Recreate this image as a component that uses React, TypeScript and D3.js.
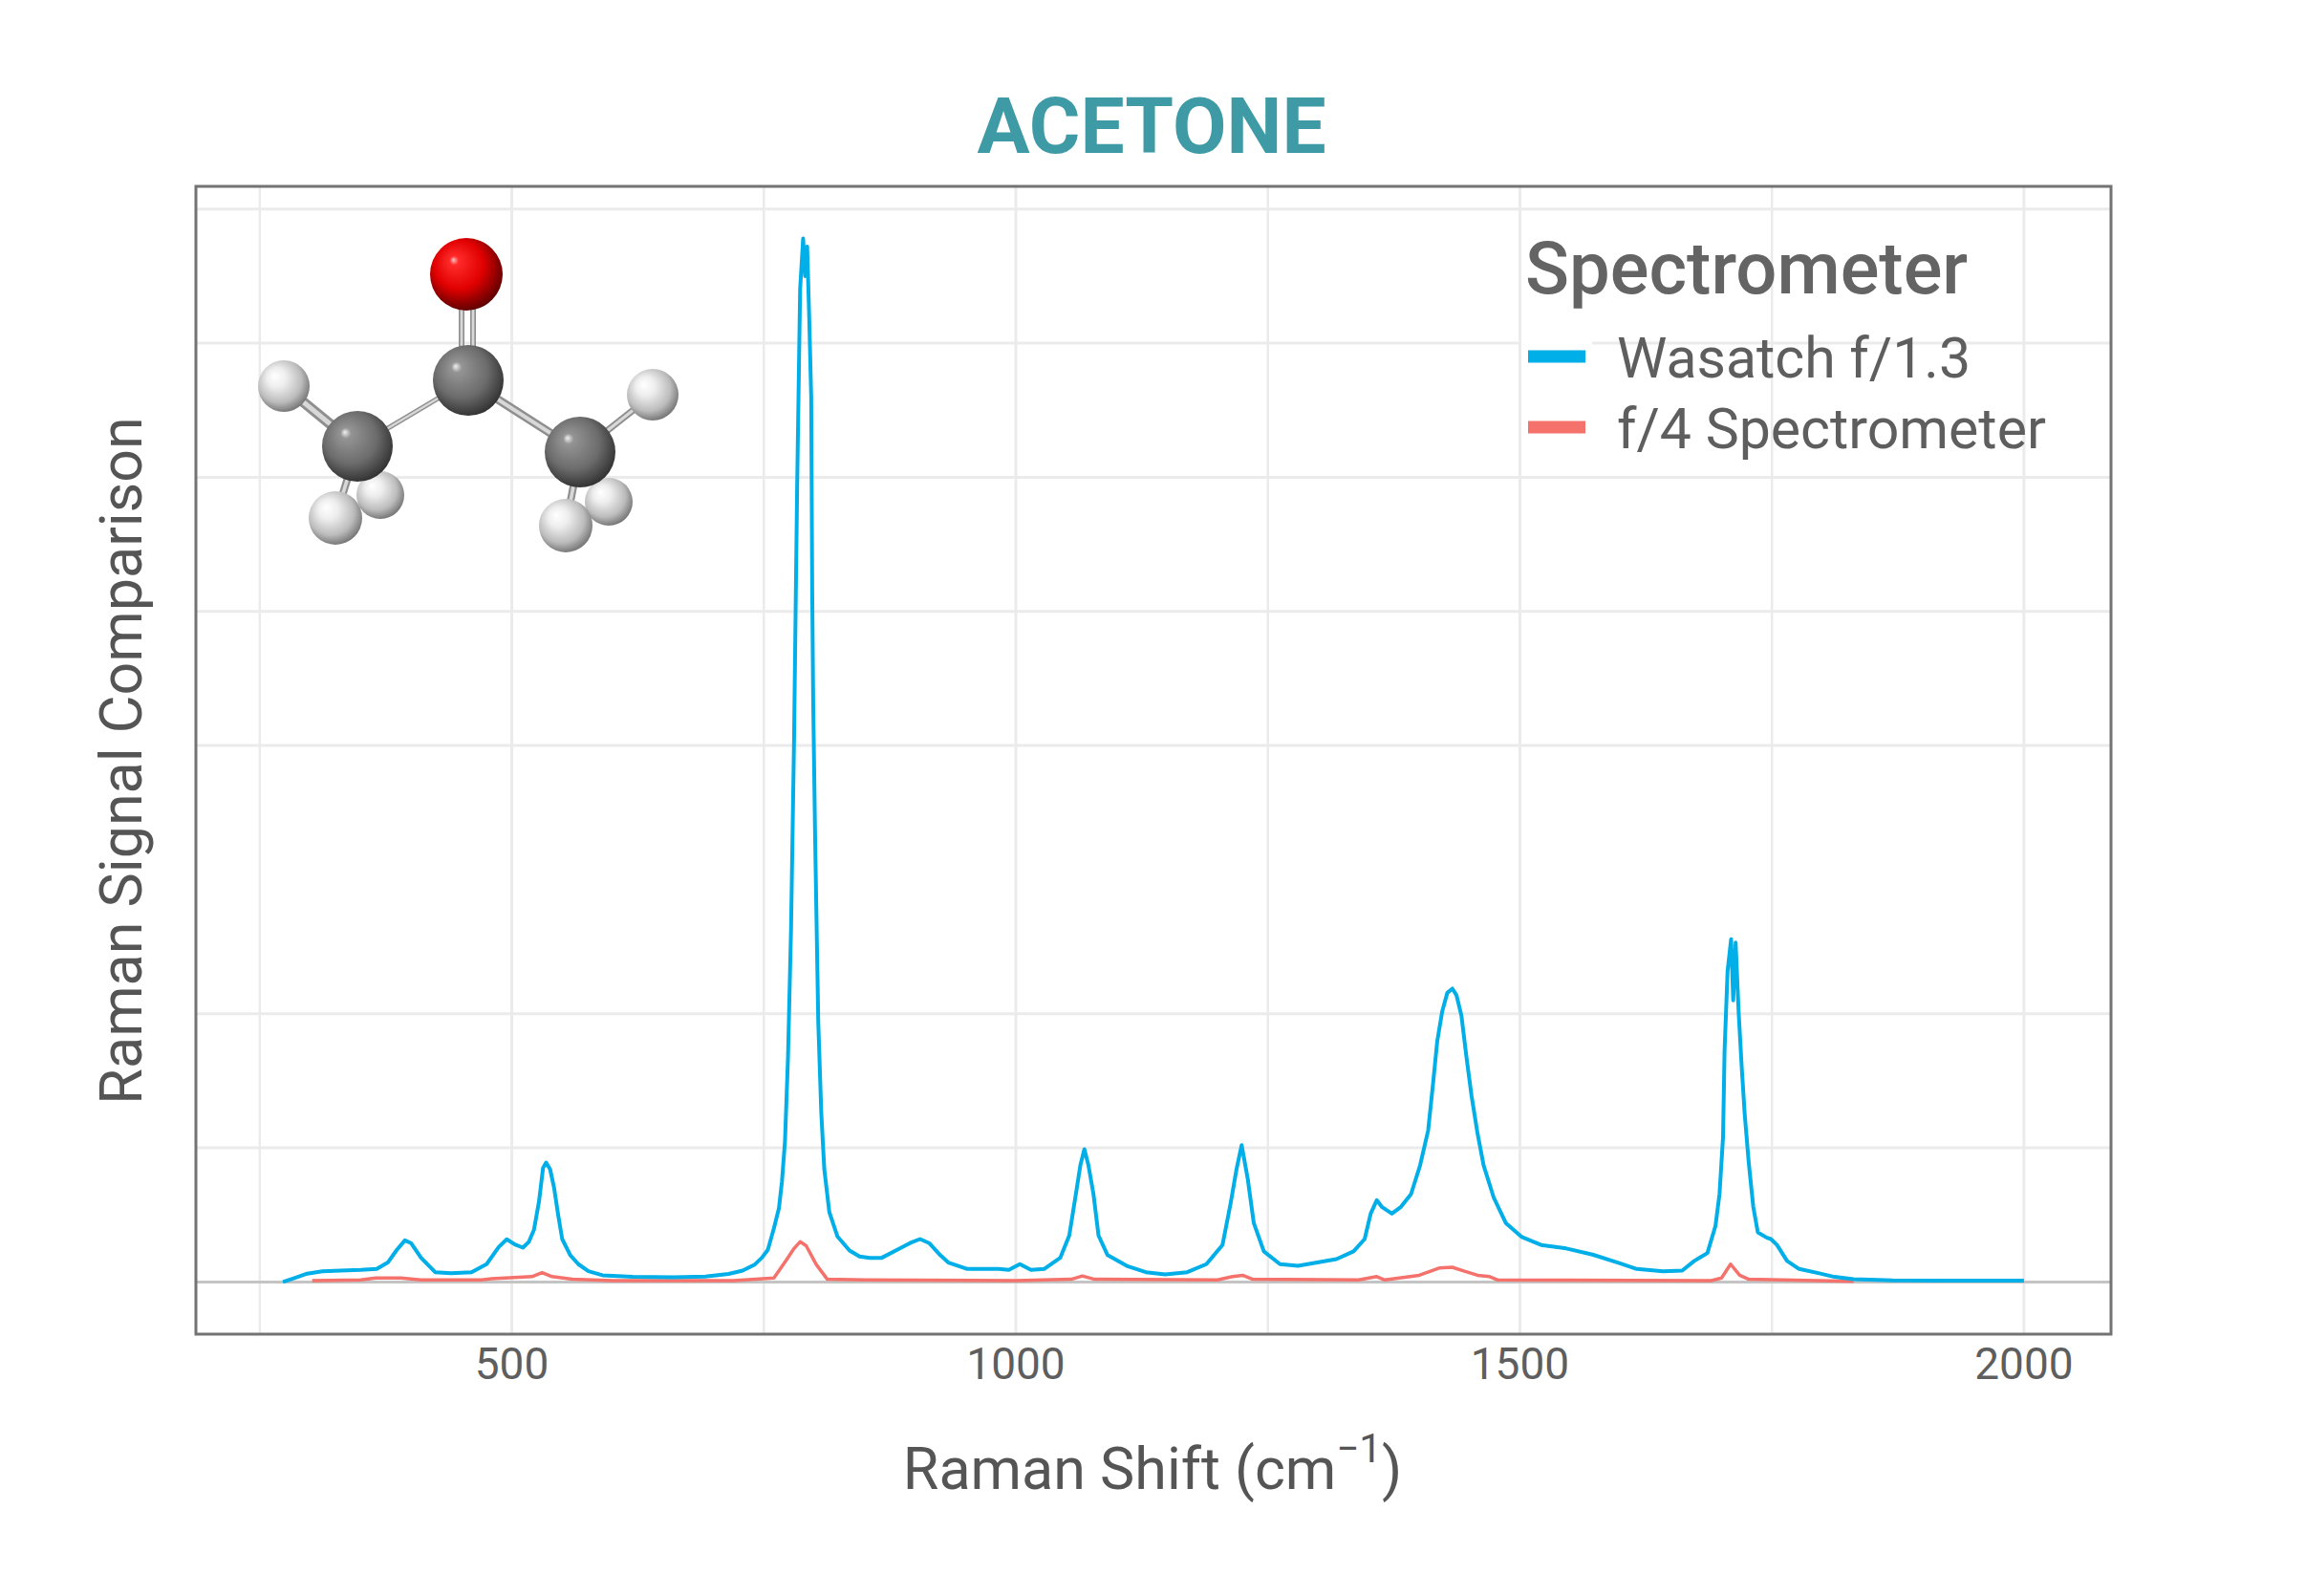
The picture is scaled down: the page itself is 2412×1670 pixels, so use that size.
import { useEffect, useRef } from "react";
import * as d3 from "d3";

// Raman shift (cm^-1), signal in gridline units
const wasatch: [number, number][] = [
    [273, 0.0], [285, 0.03], [297, 0.062], [312, 0.08], [330, 0.085], [350, 0.09],
    [366, 0.097], [377, 0.145], [386, 0.24], [394, 0.31], [400, 0.29], [410, 0.18],
    [424, 0.073], [440, 0.065], [460, 0.073], [475, 0.133], [487, 0.26], [495, 0.318],
    [503, 0.28], [511, 0.256], [517, 0.3], [522, 0.39], [527, 0.6], [531, 0.85],
    [534, 0.89], [538, 0.84], [542, 0.7], [546, 0.5], [550, 0.32], [558, 0.2],
    [566, 0.133], [576, 0.08], [590, 0.05], [620, 0.038], [660, 0.035], [692, 0.04],
    [715, 0.06], [729, 0.085], [741, 0.13], [748, 0.18], [754, 0.24], [760, 0.4],
    [765, 0.55], [768, 0.75], [771, 1.05], [774, 1.68], [777, 2.63], [780, 4.05],
    [783, 5.9], [786, 7.4], [789, 7.78], [791, 7.5], [793, 7.72], [795, 7.2],
    [797, 6.6], [798, 5.15], [799, 4.31], [801, 3.26], [804, 1.94], [807, 1.26],
    [810, 0.84], [815, 0.52], [823, 0.34], [835, 0.235], [845, 0.19], [855, 0.18],
    [867, 0.18], [885, 0.25], [895, 0.29], [905, 0.32], [914, 0.29], [925, 0.2],
    [933, 0.145], [952, 0.097], [983, 0.097], [993, 0.09], [1004, 0.133], [1015, 0.09],
    [1028, 0.097], [1044, 0.18], [1053, 0.347], [1059, 0.63], [1064, 0.87], [1068, 0.99],
    [1072, 0.87], [1077, 0.655], [1082, 0.347], [1091, 0.2], [1110, 0.12], [1129, 0.073],
    [1148, 0.057], [1170, 0.073], [1189, 0.133], [1205, 0.276], [1213, 0.584], [1219, 0.845],
    [1224, 1.02], [1230, 0.77], [1236, 0.44], [1246, 0.228], [1262, 0.133], [1280, 0.12],
    [1299, 0.145], [1318, 0.17], [1335, 0.228], [1346, 0.32], [1352, 0.51], [1358, 0.61],
    [1363, 0.56], [1373, 0.51], [1382, 0.56], [1392, 0.655], [1401, 0.87], [1409, 1.13],
    [1414, 1.49], [1418, 1.795], [1423, 2.02], [1428, 2.156], [1433, 2.187], [1437, 2.14],
    [1442, 1.985], [1447, 1.676], [1452, 1.39], [1458, 1.106], [1464, 0.87], [1474, 0.63],
    [1486, 0.44], [1502, 0.335], [1521, 0.276], [1546, 0.25], [1572, 0.204], [1597, 0.145],
    [1616, 0.097], [1642, 0.08], [1661, 0.085], [1673, 0.157], [1686, 0.216], [1694, 0.418],
    [1698, 0.655], [1701.5, 1.08], [1703, 1.72], [1706, 2.317], [1709.5, 2.555], [1711.6, 2.1],
    [1714, 2.53], [1717, 2.01], [1720, 1.605], [1723, 1.25], [1727, 0.89], [1731.5, 0.56],
    [1736, 0.37], [1745, 0.33], [1749, 0.32], [1755, 0.276], [1765, 0.157], [1777, 0.097],
    [1796, 0.066], [1812, 0.038], [1831, 0.02], [1870, 0.012], [1950, 0.01], [2000, 0.01],
];

const f4: [number, number][] = [
    [302, 0.01], [350, 0.015], [365, 0.03], [390, 0.03], [410, 0.015], [470, 0.015],
    [480, 0.025], [520, 0.04], [530, 0.07], [540, 0.04], [560, 0.02], [600, 0.01],
    [720, 0.01], [760, 0.03], [772, 0.16], [780, 0.25], [786, 0.3], [792, 0.27],
    [802, 0.13], [813, 0.02], [850, 0.015], [1000, 0.01], [1055, 0.02], [1066, 0.045],
    [1078, 0.02], [1200, 0.015], [1215, 0.04], [1225, 0.05], [1235, 0.02], [1340, 0.015],
    [1358, 0.04], [1366, 0.015], [1400, 0.05], [1420, 0.104], [1433, 0.11], [1445, 0.08],
    [1458, 0.05], [1470, 0.04], [1478, 0.015], [1690, 0.01], [1700, 0.03], [1709, 0.133],
    [1718, 0.05], [1727, 0.02], [1760, 0.015], [1831, 0.005],
];

const shiftTicks = [500, 1000, 1500, 2000];
const shiftMinor = [250, 750, 1250, 1750];
const signalGrid = [1, 2, 4, 5, 6, 7, 8];

const seriesNames = ["Wasatch f/1.3", "f/4 Spectrometer"];
const seriesColors = ["#00aee8", "#f4726b"];

// ball-and-stick acetone picture (pixel positions)
const atoms = [
    { x: 398, y: 518, r: 25, kind: "H", layer: 0 },
    { x: 637, y: 525, r: 25, kind: "H", layer: 0 },
    { x: 297, y: 404, r: 27, kind: "H", layer: 1 },
    { x: 683, y: 413, r: 27, kind: "H", layer: 1 },
    { x: 488, y: 287, r: 38, kind: "O", layer: 1 },
    { x: 490, y: 398, r: 37, kind: "C", layer: 1 },
    { x: 374, y: 467, r: 37, kind: "C", layer: 1 },
    { x: 607, y: 473, r: 37, kind: "C", layer: 1 },
    { x: 351, y: 542, r: 28, kind: "H", layer: 2 },
    { x: 592, y: 550, r: 28, kind: "H", layer: 2 },
];

const bonds = [
    { a: [483, 300], b: [483, 395], w: 6 },
    { a: [495, 300], b: [495, 395], w: 6 },
    { a: [490, 398], b: [374, 467], w: 5 },
    { a: [490, 398], b: [607, 473], w: 9 },
    { a: [297, 404], b: [374, 467], w: 11 },
    { a: [683, 413], b: [607, 473], w: 7 },
    { a: [374, 467], b: [351, 542], w: 8 },
    { a: [607, 473], b: [592, 550], w: 8 },
];

export default function App() {
    const svgRef = useRef<SVGSVGElement | null>(null);

    useEffect(() => {
        if (!svgRef.current) return;
        const svg = d3.select(svgRef.current);
        svg.selectAll("*").remove();

        const left = 205, right = 2209, top = 195, bottom = 1396;

        const xExt = d3.extent(wasatch, (d) => d[0]) as [number, number];
        const xPad = (xExt[1] - xExt[0]) * 0.05;
        const x = d3.scaleLinear().domain([xExt[0] - xPad, xExt[1] + xPad]).range([left, right]);

        const yMax = d3.max(wasatch, (d) => d[1]) as number;
        const yPad = yMax * 0.05;
        const y = d3.scaleLinear().domain([-yPad, yMax + yPad]).range([bottom, top]);

        const font = "Roboto, 'Noto Sans', sans-serif";

        // defs for molecule shading
        const defs = svg.append("defs");
        const grads: Record<string, [string, string][]> = {
            O: [["0%", "#ffc4c4"], ["10%", "#ff2a2a"], ["55%", "#e00000"], ["100%", "#520000"]],
            C: [["0%", "#f0f0f0"], ["12%", "#949494"], ["60%", "#6c6c6c"], ["100%", "#2c2c2c"]],
            H: [["0%", "#ffffff"], ["30%", "#eeeeee"], ["70%", "#bcbcbc"], ["100%", "#6a6a6a"]],
        };
        Object.entries(grads).forEach(([k, stops]) => {
            const g = defs
                .append("radialGradient")
                .attr("id", `atom-${k}`)
                .attr("cx", "45%")
                .attr("cy", "42%")
                .attr("r", "62%")
                .attr("fx", "32%")
                .attr("fy", "30%");
            stops.forEach(([o, c]) => g.append("stop").attr("offset", o).attr("stop-color", c));
        });

        svg.append("rect").attr("width", 2412).attr("height", 1670).attr("fill", "#ffffff");

        // gridlines
        const grid = svg.append("g").attr("stroke", "#ebebeb").attr("stroke-width", 3);
        grid.selectAll(".vminor")
            .data(shiftMinor)
            .enter()
            .append("line")
            .attr("x1", (d) => x(d))
            .attr("x2", (d) => x(d))
            .attr("y1", top)
            .attr("y2", bottom)
            .attr("stroke-width", 2.5);
        grid.selectAll(".vmajor")
            .data(shiftTicks)
            .enter()
            .append("line")
            .attr("x1", (d) => x(d))
            .attr("x2", (d) => x(d))
            .attr("y1", top)
            .attr("y2", bottom);
        grid.selectAll(".h")
            .data(signalGrid)
            .enter()
            .append("line")
            .attr("x1", left)
            .attr("x2", right)
            .attr("y1", (d) => y(d))
            .attr("y2", (d) => y(d));

        // zero line
        svg.append("line")
            .attr("x1", left)
            .attr("x2", right)
            .attr("y1", y(0))
            .attr("y2", y(0))
            .attr("stroke", "#c4c4c4")
            .attr("stroke-width", 3);

        // molecule
        const mol = svg.append("g");
        const drawAtoms = (layer: number) =>
            mol.selectAll(`.atom${layer}`)
                .data(atoms.filter((a) => a.layer === layer))
                .enter()
                .append("circle")
                .attr("cx", (d) => d.x)
                .attr("cy", (d) => d.y)
                .attr("r", (d) => d.r)
                .attr("fill", (d) => `url(#atom-${d.kind})`);
        drawAtoms(0);
        mol.selectAll(".bondOuter")
            .data(bonds)
            .enter()
            .append("line")
            .attr("x1", (d) => d.a[0])
            .attr("y1", (d) => d.a[1])
            .attr("x2", (d) => d.b[0])
            .attr("y2", (d) => d.b[1])
            .attr("stroke", "#8f8f8f")
            .attr("stroke-width", (d) => d.w);
        mol.selectAll(".bondInner")
            .data(bonds)
            .enter()
            .append("line")
            .attr("x1", (d) => d.a[0])
            .attr("y1", (d) => d.a[1])
            .attr("x2", (d) => d.b[0])
            .attr("y2", (d) => d.b[1])
            .attr("stroke", "#d8d8d8")
            .attr("stroke-width", (d) => d.w * 0.45);
        drawAtoms(1);
        drawAtoms(2);

        // spectra
        const line = d3
            .line<[number, number]>()
            .x((d) => x(d[0]))
            .y((d) => y(d[1]));

        svg.append("path")
            .attr("d", line(f4) as string)
            .attr("fill", "none")
            .attr("stroke", seriesColors[1])
            .attr("stroke-width", 3.5)
            .attr("stroke-linejoin", "round");
        svg.append("path")
            .attr("d", line(wasatch) as string)
            .attr("fill", "none")
            .attr("stroke", seriesColors[0])
            .attr("stroke-width", 4)
            .attr("stroke-linejoin", "round");

        // panel border
        svg.append("rect")
            .attr("x", left)
            .attr("y", top)
            .attr("width", right - left)
            .attr("height", bottom - top)
            .attr("fill", "none")
            .attr("stroke", "#737373")
            .attr("stroke-width", 3);

        // x tick labels
        svg.selectAll(".xtick")
            .data(shiftTicks)
            .enter()
            .append("text")
            .attr("x", (d) => x(d))
            .attr("y", 1443)
            .attr("text-anchor", "middle")
            .attr("font-family", font)
            .attr("font-size", 46)
            .attr("fill", "#5e5e5e")
            .text((d) => d);

        // title
        svg.append("text")
            .attr("x", 1205)
            .attr("y", 160)
            .attr("text-anchor", "middle")
            .attr("font-family", font)
            .attr("font-weight", 700)
            .attr("font-size", 82)
            .attr("fill", "#3e9ba6")
            .text("ACETONE");

        // axis titles
        const xt = svg.append("text")
            .attr("x", 1206)
            .attr("y", 1558)
            .attr("text-anchor", "middle")
            .attr("font-family", font)
            .attr("font-size", 61)
            .attr("fill", "#555555");
        xt.append("tspan").text("Raman Shift (cm");
        xt.append("tspan").attr("font-size", 42).attr("dy", -28).text("\u22121");
        xt.append("tspan").attr("dy", 28).text(")");

        svg.append("text")
            .attr("transform", "translate(148,796) rotate(-90)")
            .attr("text-anchor", "middle")
            .attr("font-family", font)
            .attr("font-size", 61)
            .attr("fill", "#555555")
            .text("Raman Signal Comparison");

        // legend
        const legend = svg.append("g");
        legend.append("text")
            .attr("x", 1596)
            .attr("y", 307)
            .attr("font-family", font)
            .attr("font-weight", 500)
            .attr("font-size", 76)
            .attr("fill", "#646464")
            .text("Spectrometer");

        const items = legend
            .selectAll(".item")
            .data(seriesNames)
            .enter()
            .append("g")
            .attr("transform", (d, i) => `translate(0, ${373 + i * 74})`);
        items.append("rect")
            .attr("x", 1592)
            .attr("y", -36)
            .attr("width", 74)
            .attr("height", 72)
            .attr("fill", "#ffffff");
        items.append("line")
            .attr("x1", 1599)
            .attr("x2", 1659)
            .attr("stroke", (d, i) => seriesColors[i])
            .attr("stroke-width", 13);
        items.append("text")
            .attr("x", 1692)
            .attr("y", 22)
            .attr("font-family", font)
            .attr("font-size", 59)
            .attr("fill", "#5e5e5e")
            .text((d) => d);
    }, []);

    return (
        <svg
            ref={svgRef}
            width={2412}
            height={1670}
            style={{ position: "absolute", left: 0, top: 0 }}
        />
    );
}
